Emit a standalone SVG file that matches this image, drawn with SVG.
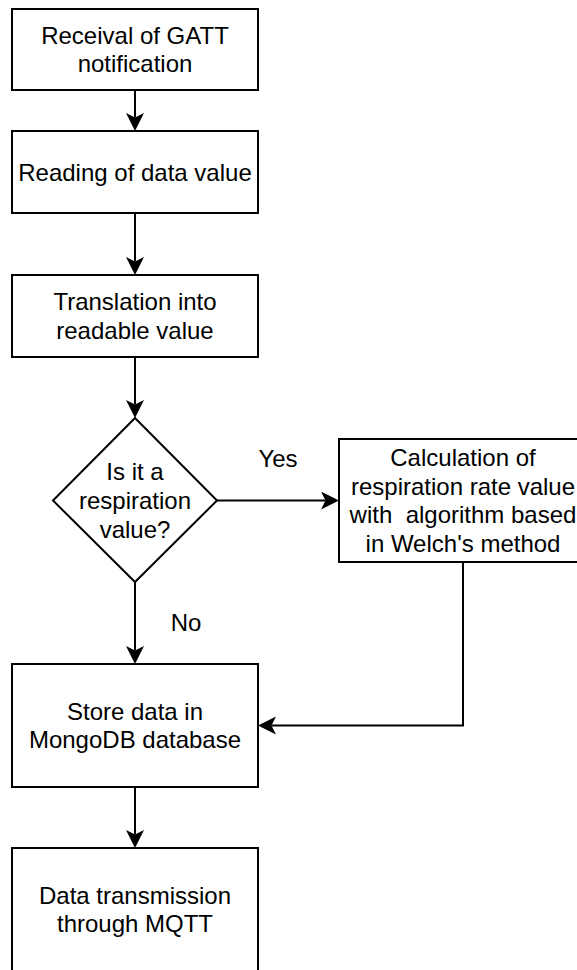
<svg xmlns="http://www.w3.org/2000/svg" width="577" height="970" viewBox="0 0 577 970">
<style>
.box{fill:#fff;stroke:#000;stroke-width:2}
.lbl{font-family:"Liberation Sans",Arial,Helvetica,sans-serif;font-size:24px;fill:#000;text-anchor:middle}
.edge{fill:none;stroke:#000;stroke-width:2}
</style>
<defs>
<marker id="arr" viewBox="0 0 18 18" refX="4.5" refY="9" markerWidth="18" markerHeight="18" markerUnits="userSpaceOnUse" orient="auto">
<path d="M0,0 L18,9 L0,18 L4.5,9 Z" fill="#000"/>
</marker>
</defs>
<rect width="577" height="970" fill="#fff"/>
<g id="connectors">
<path class="edge" d="M135,90 V117.5" marker-end="url(#arr)"/>
<path class="edge" d="M135,213 V261.5" marker-end="url(#arr)"/>
<path class="edge" d="M135,357 V404.5" marker-end="url(#arr)"/>
<path class="edge" d="M217,500.5 H325.5" marker-end="url(#arr)"/>
<path class="edge" d="M135,582 V650.5" marker-end="url(#arr)"/>
<path class="edge" d="M463,562 V725.5 H271.5" marker-end="url(#arr)"/>
<path class="edge" d="M135,787 V834.5" marker-end="url(#arr)"/>
<text class="lbl" x="278" y="467">Yes</text>
<text class="lbl" x="186" y="631">No</text>
</g>
<g id="n1">
<rect class="box" x="12" y="9" width="246" height="81"/>
<text class="lbl" x="135" y="43.5">Receival of GATT</text>
<text class="lbl" x="135" y="72.3">notification</text>
</g>
<g id="n2">
<rect class="box" x="12" y="131" width="246" height="82"/>
<text class="lbl" x="135" y="180.5">Reading of data value</text>
</g>
<g id="n3">
<rect class="box" x="12" y="275" width="246" height="82"/>
<text class="lbl" x="135" y="310">Translation into</text>
<text class="lbl" x="135" y="338.8">readable value</text>
</g>
<g id="n4">
<polygon class="box" points="135,418 217,500.5 135,582 53,500.5"/>
<text class="lbl" x="135" y="480">Is it a</text>
<text class="lbl" x="135" y="508.8">respiration</text>
<text class="lbl" x="135" y="537.6">value?</text>
</g>
<g id="n5">
<rect class="box" x="339" y="439" width="248" height="123"/>
<text class="lbl" x="463" y="465.8">Calculation of</text>
<text class="lbl" x="463" y="494.6">respiration rate value</text>
<text class="lbl" x="463" y="523.4" xml:space="preserve">with  algorithm based</text>
<text class="lbl" x="463" y="552.2">in Welch's method</text>
</g>
<g id="n6">
<rect class="box" x="12" y="664" width="246" height="123"/>
<text class="lbl" x="135" y="719.6">Store data in</text>
<text class="lbl" x="135" y="748.4">MongoDB database</text>
</g>
<g id="n7">
<rect class="box" x="12" y="848" width="246" height="123"/>
<text class="lbl" x="135" y="903.6">Data transmission</text>
<text class="lbl" x="135" y="932.4">through MQTT</text>
</g>
</svg>
